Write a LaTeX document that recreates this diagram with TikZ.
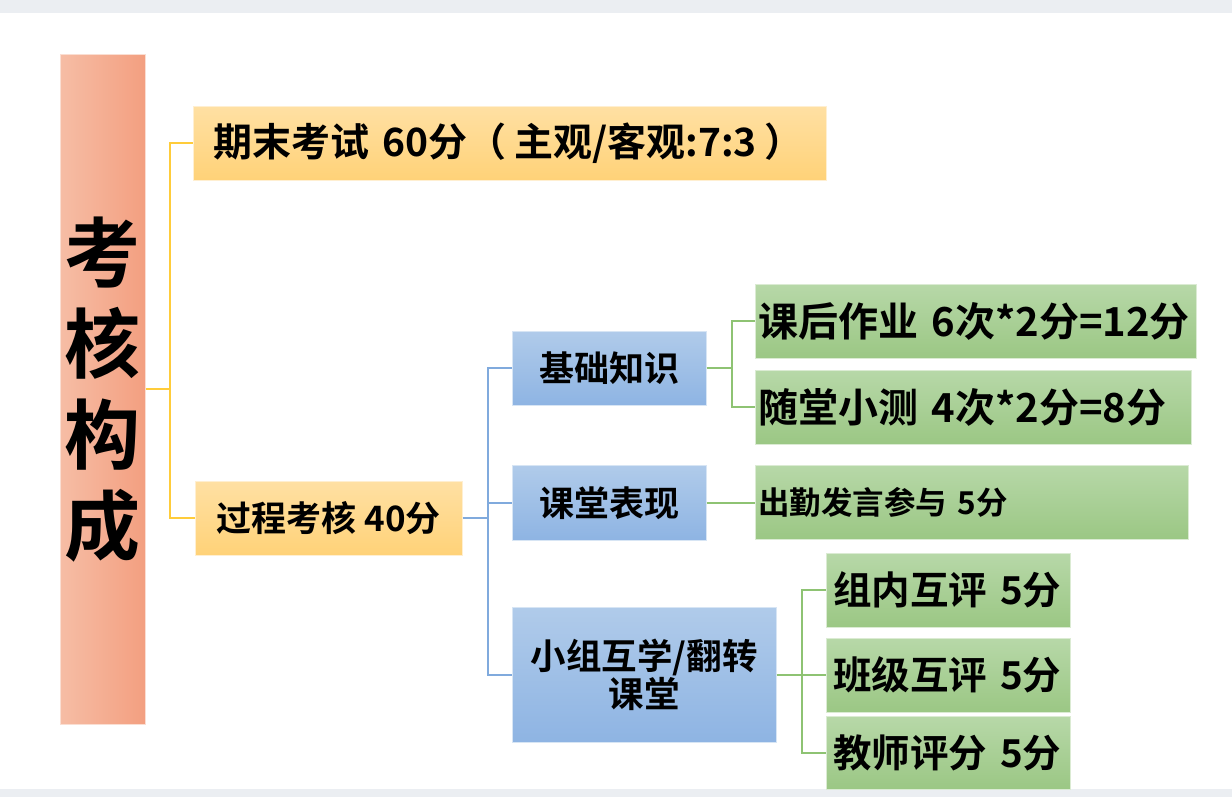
\documentclass[tikz,border=0pt]{standalone}
\usepackage{fontspec}
\setmainfont{Noto Sans CJK SC}[BoldFont={* Bold}]
\usetikzlibrary{positioning}

\definecolor{ytop}{HTML}{FFE0A3}
\definecolor{ybot}{HTML}{FFD278}
\definecolor{btop}{HTML}{B0CBEA}
\definecolor{bbot}{HTML}{8EB4E3}
\definecolor{gtop}{HTML}{B7D8A8}
\definecolor{gbot}{HTML}{9BC784}
\definecolor{rleft}{HTML}{F6BDA5}
\definecolor{rright}{HTML}{F39F80}
\definecolor{yln}{HTML}{FFCC3A}
\definecolor{bln}{HTML}{80AADD}
\definecolor{gln}{HTML}{8EC373}
\definecolor{strip}{HTML}{EBEEF2}

\newcommand{\fs}[1]{\bfseries\fontsize{#1}{1.2\dimexpr#1pt\relax}\selectfont}

\begin{document}
\begin{tikzpicture}[x=1pt,y=-1pt,
  box/.style={anchor=north west,inner sep=0pt,line width=0.6pt},
  ybox/.style={box,top color=ytop,bottom color=ybot,draw=ytop!50!white},
  bbox/.style={box,top color=btop,bottom color=bbot,draw=btop!50!white},
  gbox/.style={box,top color=gtop,bottom color=gbot,draw=gtop!50!white,align=left},
  yline/.style={draw=yln,line width=2pt},
  bline/.style={draw=bln,line width=2pt},
  gline/.style={draw=gln,line width=2pt}]

\useasboundingbox (0,0) rectangle (1232,797);
\fill[strip] (0,0) rectangle (1232,13);
\fill[strip] (0,789) rectangle (1232,797);

% root
\node[box,left color=rleft,right color=rright,draw=rleft!50!white,
  minimum width=85pt,minimum height=670pt,align=center,
  font={\bfseries\fontsize{76}{91}\selectfont}] (kh) at (60,54) {考\\核\\构\\成};

% first level
\node[ybox,text width=593pt,inner xsep=20pt,minimum height=74pt,align=left,
  font=\fs{39}] (qm) at (193,106) {期末考试 60分（\hspace{8pt}主观/客观:7:3\hspace{8pt}）};
\node[ybox,minimum width=267pt,minimum height=74pt,font=\fs{35}] (gc) at (195,481) {过程考核 40分};

% second level
\node[bbox,minimum width=194pt,minimum height=74pt,font=\fs{35}] (jc) at (512,331) {基础知识};
\node[bbox,minimum width=194pt,minimum height=75pt,font=\fs{35}] (bx) at (512,465) {课堂表现};
\node[bbox,minimum width=264pt,minimum height=135pt,align=center,
  font={\bfseries\fontsize{35.5}{38}\selectfont}] (xz) at (512,607) {小组互学/翻转\\课堂};

% third level
\node[gbox,text width=435pt,inner xsep=3pt,minimum height=74pt,font=\fs{40}] (zy) at (755,284) {课后作业 6次*2分=12分};
\node[gbox,text width=430pt,inner xsep=3pt,minimum height=74pt,font=\fs{40}] (sc) at (755,370) {随堂小测 4次*2分=8分};
\node[gbox,text width=427pt,inner xsep=3pt,minimum height=74pt,font=\fs{31.5}] (cq) at (755,465) {出勤发言参与 5分};

\def\peer{zn/553/74/{组内互评 5分},bj/638/74/{班级互评 5分},js/716/73/{教师评分 5分}}
\foreach \n/\y/\h/\t in \peer
  \node[gbox,text width=238pt,inner xsep=3pt,minimum height=\h pt,font=\fs{38.5}] (\n) at (826,\y) {\hspace{4pt}\t};

% connectors
\draw[yline] (kh.east) -- ++(24,0) coordinate (ysp);
\draw[yline] (ysp) |- (qm.west);
\draw[yline] (ysp) |- (gc.west);

\draw[bline] (gc.east) -- ++(25,0) coordinate (bsp);
\foreach \n in {jc,bx,xz}
  \draw[bline] (bsp) |- (\n.west);

\draw[gline] (jc.east) -- ++(25,0) coordinate (gsp);
\draw[gline] (gsp) |- (zy.west);
\draw[gline] (gsp) |- (sc.west);
\draw[gline] (bx.east) -- (bx.east -| cq.west);

\draw[gline] (xz.east) -- ++(25,0) coordinate (psp);
\foreach \n in {zn,bj,js}
  \draw[gline] (psp) |- (\n.west);

\end{tikzpicture}
\end{document}
